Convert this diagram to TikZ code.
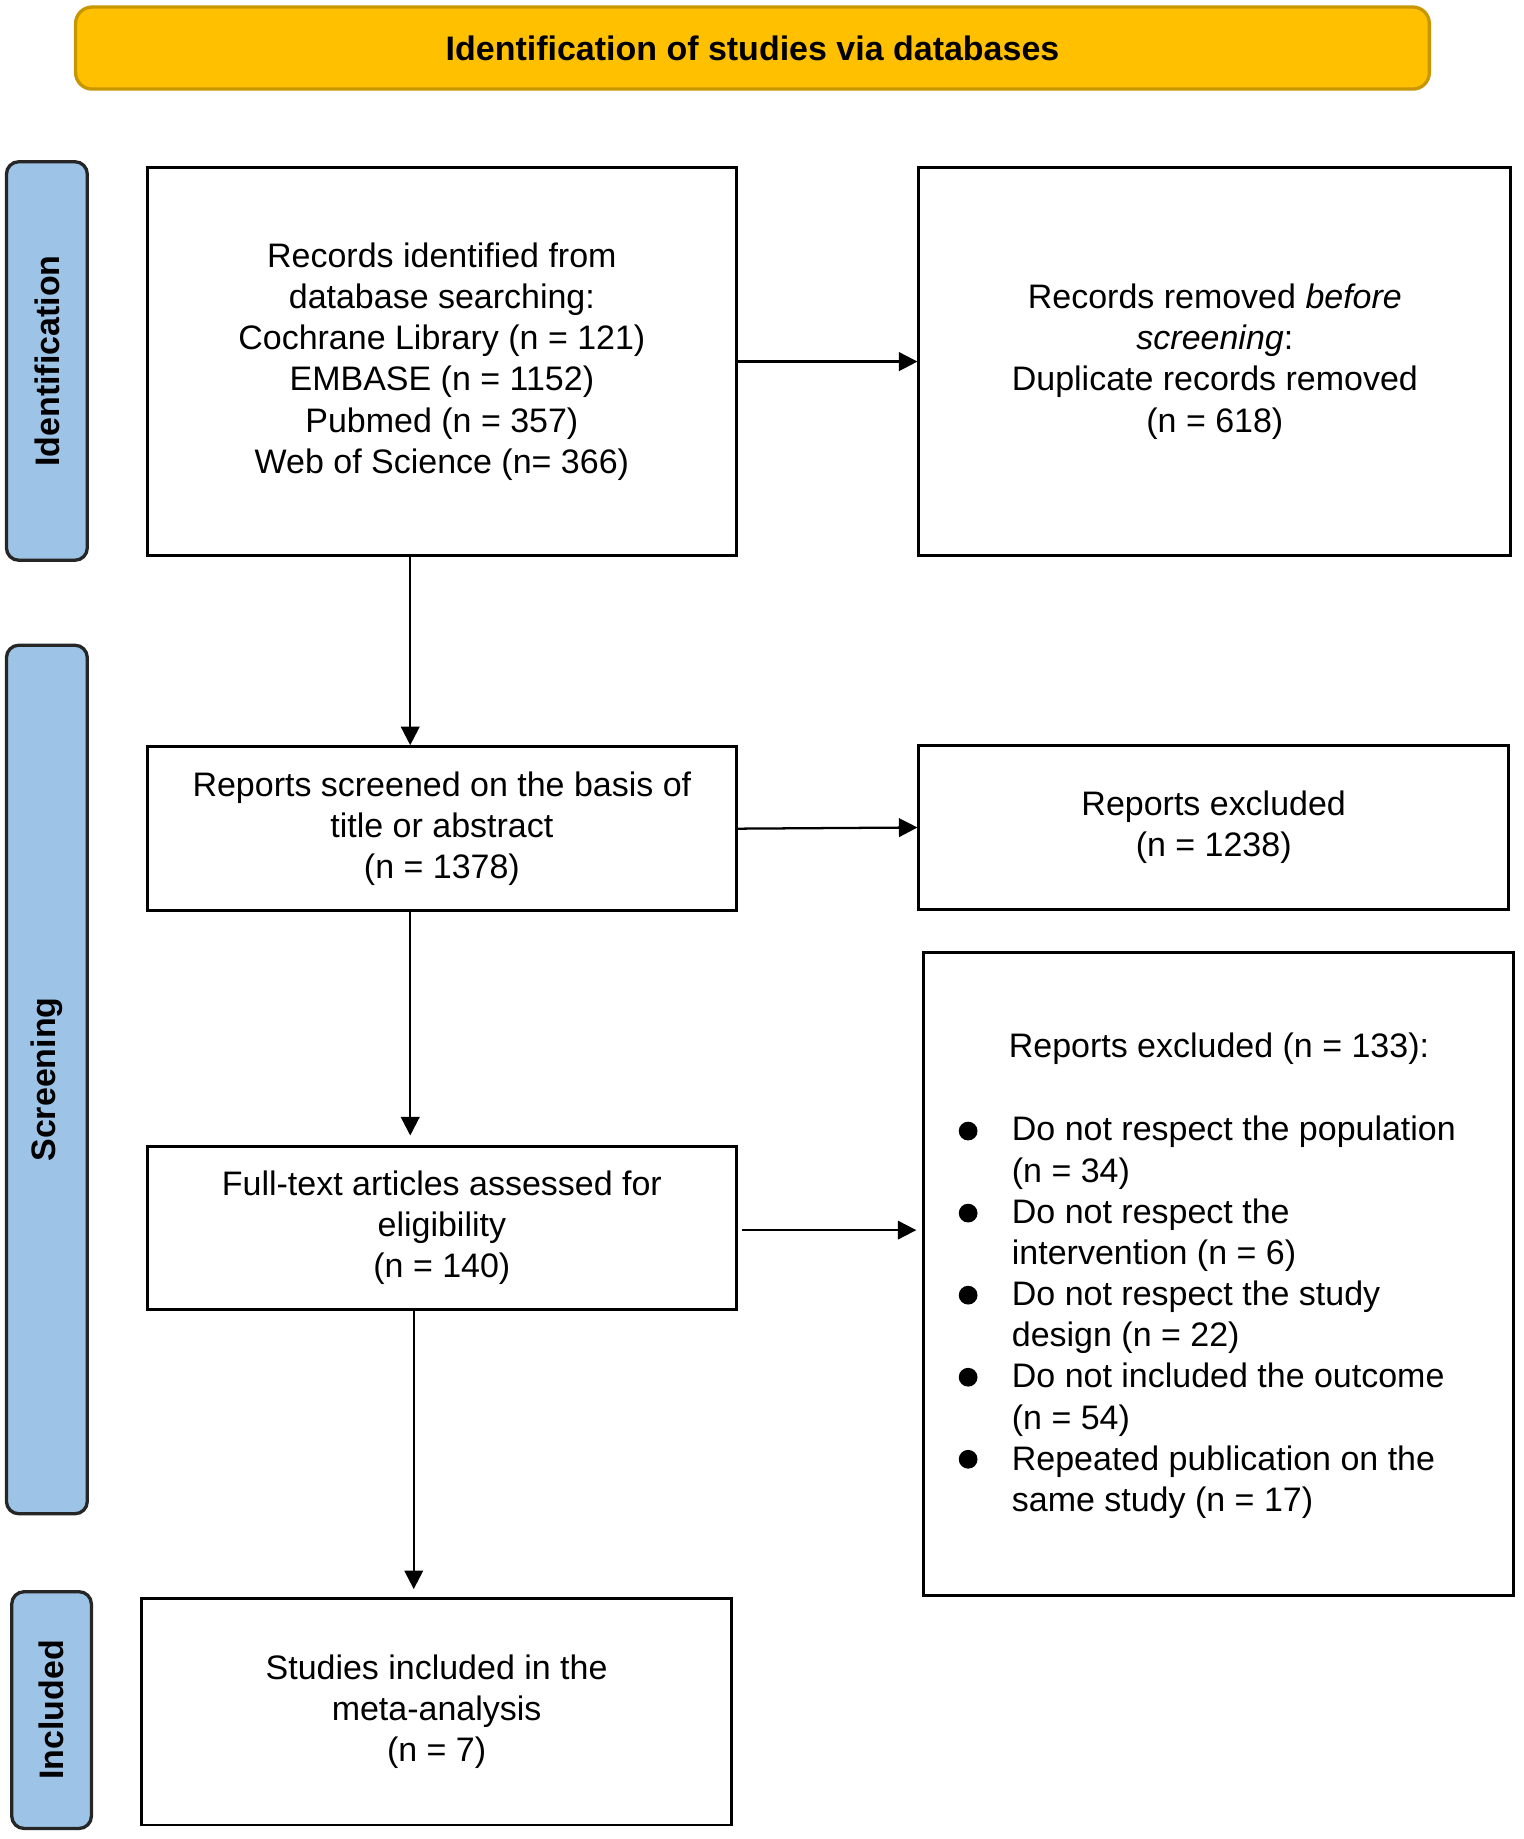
\documentclass[tikz,border=0pt]{standalone}
\usepackage{fontspec}
\setmainfont{Liberation Sans}
\usetikzlibrary{arrows.meta,calc}
\begin{document}
\begin{tikzpicture}[x=0.02cm,y=-0.02cm,
  box/.style={draw,line width=1.4pt,inner sep=0,align=center,font=\fontsize{16.5}{20}\selectfont},
  side/.style={draw=black!85,line width=1.6pt,rounded corners=6pt,fill=blue!30!cyan!20!white,fill={rgb,255:red,157;green,195;blue,230},inner sep=0},
  arr/.style={-{Triangle[length=9pt,width=9pt]},line width=1.1pt}]
\useasboundingbox (0,0) rectangle (1300,1569);
\node[draw={rgb,255:red,200;green,150;blue,0},line width=1.6pt,rounded corners=8pt,fill={rgb,255:red,255;green,192;blue,0},minimum width=1155*0.02cm,minimum height=70*0.02cm,font=\bfseries\fontsize{16.5}{20}\selectfont] (hdr) at (642,41) {Identification of studies via databases};
\node[side,minimum width=69*0.02cm,minimum height=340*0.02cm] (s1) at (40,308) {};
\node[rotate=90,font=\bfseries\fontsize{16.5}{20}\selectfont] (t1) at (s1) {Identification};
\node[side,minimum width=69*0.02cm,minimum height=741*0.02cm] (s2) at (40,921) {};
\node[rotate=90,font=\bfseries\fontsize{16.5}{20}\selectfont] (t2) at (s2) {Screening};
\node[side,minimum width=68*0.02cm,minimum height=202*0.02cm] (s3) at (44,1459) {};
\node[rotate=90,font=\bfseries\fontsize{16.5}{20}\selectfont] (t3) at (s3) {Included};

\node[box,minimum width=502*0.02cm,minimum height=331*0.02cm] (b1) at (377,308.5) {Records identified from\\database searching:\\Cochrane Library (n = 121)\\EMBASE (n = 1152)\\Pubmed (n = 357)\\Web of Science (n= 366)};
\node[box,minimum width=505*0.02cm,minimum height=331*0.02cm] (b2) at (1036.5,308.5) {Records removed \textit{before}\\\textit{screening}:\\Duplicate records removed\\(n = 618)};
\node[box,minimum width=502*0.02cm,minimum height=140*0.02cm] (b3) at (377,707) {Reports screened on the basis of\\title or abstract\\(n = 1378)};
\node[box,minimum width=503*0.02cm,minimum height=140*0.02cm] (b4) at (1035.5,706) {Reports excluded\\(n = 1238)};
\node[box,minimum width=502*0.02cm,minimum height=139*0.02cm] (b5) at (377,1047.5) {Full-text articles assessed for\\eligibility\\(n = 140)};
\node[box,minimum width=503*0.02cm,minimum height=548*0.02cm] (b6) at (1039.5,1087) {};
\node[box,minimum width=503*0.02cm,minimum height=193*0.02cm] (b7) at (372.5,1460.5) {Studies included in the\\meta-analysis\\(n = 7)};

\node[font=\fontsize{16.5}{20}\selectfont] (l0) at (1040,895) {Reports excluded (n = 133):};
\node[anchor=north west,inner sep=0,align=left,font=\fontsize{16.5}{20}\selectfont] (l1) at (863,952) {Do not respect the population\\(n = 34)\\Do not respect the\\intervention (n = 6)\\Do not respect the study\\design (n = 22)\\Do not included the outcome\\(n = 54)\\Repeated publication on the\\same study (n = 17)};
\foreach \yy/\nm in {965/c1,1035/c2,1105/c3,1175/c4,1245/c5}
  \fill (826,\yy) circle (8) coordinate (\nm);

\coordinate (x1) at (350,0);
\coordinate (x2) at (353,0);
\draw[arr] (b1.east) -- (b2.west);
\draw[arr] (b1.south -| x1) -- (b3.north -| x1);
\draw[arr] (b3.east) -- (b4.west);
\draw[arr] (b3.south -| x1) -- ($(b5.north -| x1)+(0,-8)$);
\draw[arr] ($(b5.east)+(4,2)$) -- ($(b5.east -| b6.west)+(-5,2)$);
\draw[arr] (b5.south -| x2) -- ($(b7.north -| x2)+(0,-7)$);
\end{tikzpicture}
\end{document}
